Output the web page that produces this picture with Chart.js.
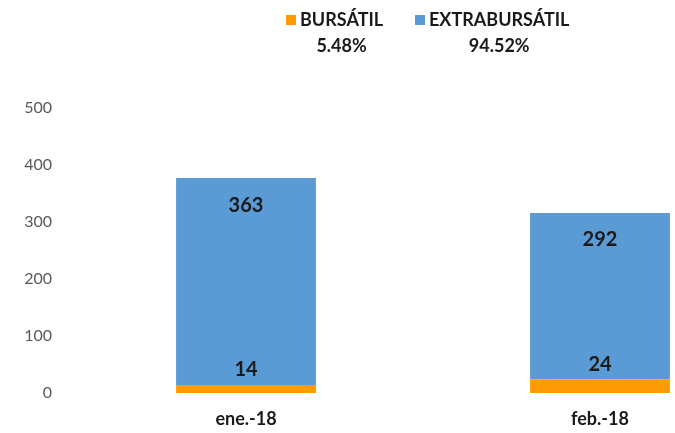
<!DOCTYPE html>
<html>
<head>
<meta charset="utf-8">
<script src="https://cdn.jsdelivr.net/npm/chart.js@4/dist/chart.umd.min.js"></script>
<style>
  html, body { margin: 0; padding: 0; background: #fff; overflow: hidden; }
  #wrap { position: relative; width: 780px; height: 433px; }
</style>
</head>
<body>
<div id="wrap"><canvas id="dataChart" width="780" height="433"></canvas></div>
<script>
const categories = ['ene.-18', 'feb.-18'];
const bursatil = [14, 24];
const extrabursatil = [363, 292];
const seriesNames = ['BURSÁTIL', 'EXTRABURSÁTIL'];
const seriesColors = ['#FF9B05', '#5B9BD5'];
const yTicks = [0, 100, 200, 300, 400, 500];

const FONT = 'Lato, "Open Sans", sans-serif';

// porcentaje de cada serie sobre el total
function share(arr) {
  const total = bursatil.concat(extrabursatil).reduce((a, b) => a + b, 0);
  return (arr.reduce((a, b) => a + b, 0) / total * 100).toFixed(2) + '%';
}

// leyenda con porcentaje debajo
const legendPlugin = {
  id: 'legendShares',
  afterDraw(chart) {
    const ctx = chart.ctx;
    const items = [
      { name: seriesNames[0], color: seriesColors[0], pct: share(bursatil), x: 286 },
      { name: seriesNames[1], color: seriesColors[1], pct: share(extrabursatil), x: 415 }
    ];
    ctx.save();
    items.forEach(it => {
      ctx.fillStyle = it.color;
      ctx.fillRect(it.x, 15, 10, 10);
      ctx.font = 'bold 18px ' + FONT;
      ctx.fillStyle = '#1a1a1a';
      ctx.textAlign = 'left';
      ctx.textBaseline = 'middle';
      ctx.fillText(it.name, it.x + 14, 20);
      const w = ctx.measureText(it.name).width;
      ctx.textAlign = 'center';
      ctx.fillText(it.pct, it.x + 14 + w / 2, 46);
    });
    ctx.restore();
  }
};

// etiquetas de valores sobre las barras
const valuePlugin = {
  id: 'valueLabels',
  afterDatasetsDraw(chart) {
    const ctx = chart.ctx;
    ctx.save();
    ctx.font = 'bold 20px ' + FONT;
    ctx.fillStyle = '#1a1a1a';
    ctx.textAlign = 'center';
    ctx.textBaseline = 'middle';
    const m0 = chart.getDatasetMeta(0);
    const m1 = chart.getDatasetMeta(1);
    m0.data.forEach((bar, i) => {
      ctx.fillText(bursatil[i], bar.x, bar.y - 15);
    });
    m1.data.forEach((bar, i) => {
      ctx.fillText(extrabursatil[i], bar.x, bar.y + 27);
    });
    ctx.restore();
  }
};

const ctx = document.getElementById('dataChart').getContext('2d');
new Chart(ctx, {
  type: 'bar',
  data: {
    labels: categories,
    datasets: [
      { label: seriesNames[0], data: bursatil, backgroundColor: seriesColors[0], barPercentage: 0.395, categoryPercentage: 1 },
      { label: seriesNames[1], data: extrabursatil, backgroundColor: seriesColors[1], barPercentage: 0.395, categoryPercentage: 1 }
    ]
  },
  options: {
    responsive: false,
    animation: false,
    layout: { padding: { top: 108, right: 3, left: 0, bottom: 0 } },
    plugins: { legend: { display: false }, tooltip: { enabled: false } },
    scales: {
      x: {
        stacked: true,
        grid: { display: false, drawTicks: false },
        border: { display: false },
        ticks: { color: '#1a1a1a', font: { family: FONT, size: 18, weight: 'bold' }, padding: 15 },
        afterFit(s) { s.height = 40; }
      },
      y: {
        stacked: true,
        min: 0, max: 500,
        afterBuildTicks(s) { s.ticks = yTicks.map(v => ({ value: v })); },
        grid: { display: false, drawTicks: false },
        border: { display: false },
        ticks: { color: '#595959', font: { family: FONT, size: 16 }, padding: 17 },
        afterFit(s) { s.width = 69; }
      }
    }
  },
  plugins: [legendPlugin, valuePlugin]
});
</script>
</body>
</html>
